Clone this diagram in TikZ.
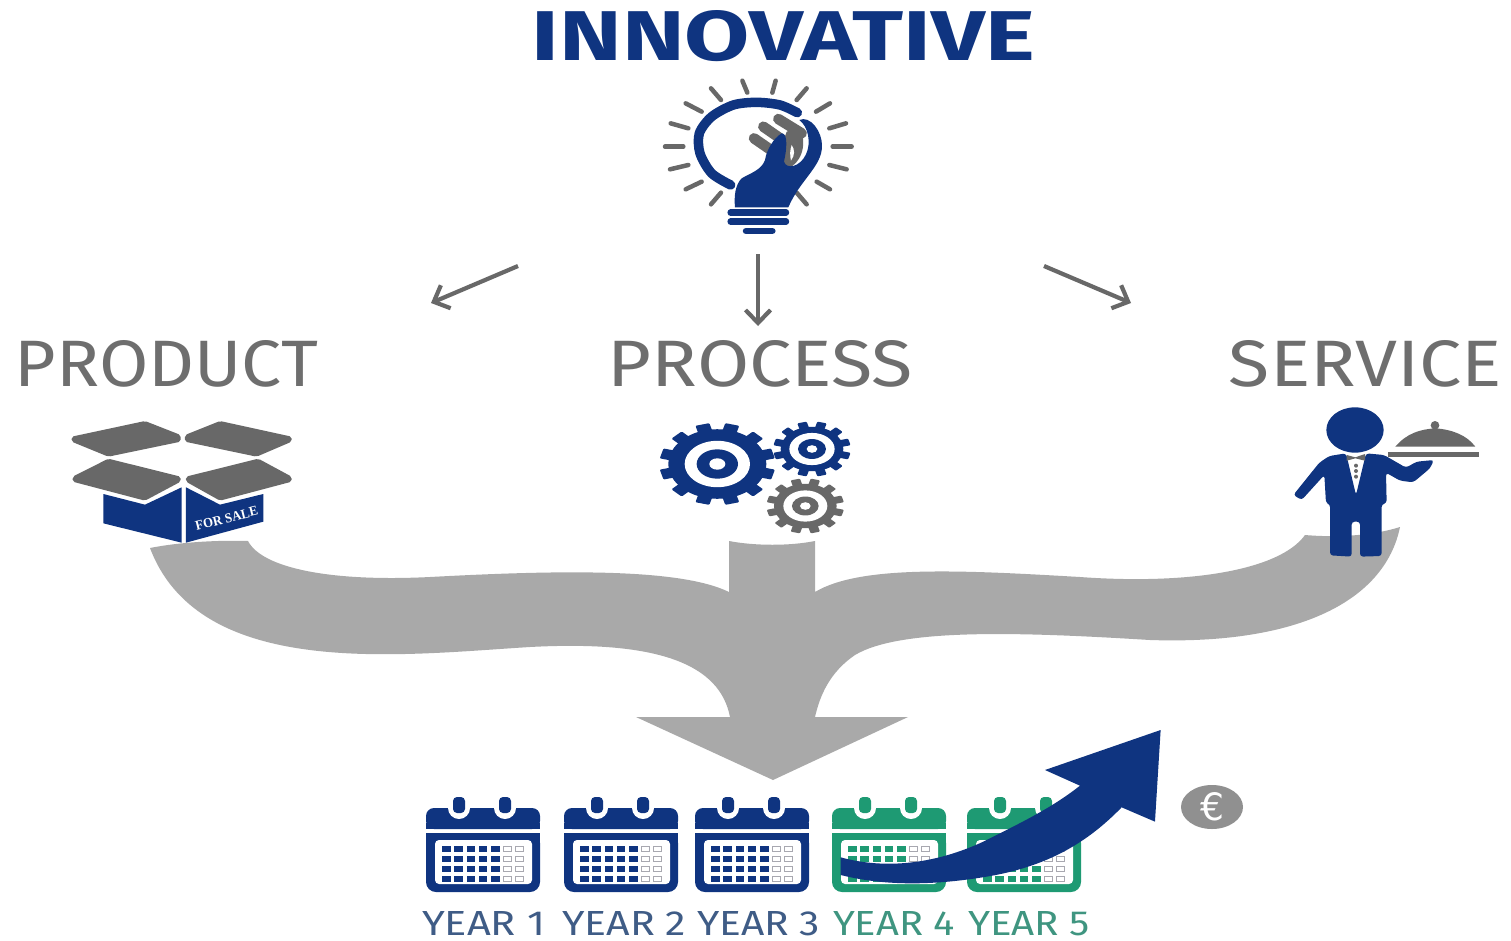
\documentclass[tikz,border=0pt]{standalone}
\usepackage{graphicx}
\usepackage{fontspec}
\setmainfont{Fira Sans}[Numbers=Lining]
\newfontfamily\eurofont{DejaVu Sans}
\newfontfamily\boxfont{Liberation Serif}
\usetikzlibrary{arrows.meta}
\definecolor{navy}{HTML}{0F3480}
\definecolor{band}{HTML}{A9A9A9}
\definecolor{flap}{HTML}{686868}
\definecolor{label}{HTML}{6E6E6E}
\definecolor{calgreen}{HTML}{1E9A73}
\definecolor{yrblue}{HTML}{3F5C86}
\definecolor{yrgreen}{HTML}{3F9580}
\definecolor{cellgray}{HTML}{A8A8B0}
\tikzset{
  thinarrow/.style={draw=flap,line width=4.2pt,-{Straight Barb[length=13pt,width=25pt,line width=4.2pt]}},
  ray/.style={draw=flap,line width=4.5pt,line cap=round},
  fit label/.style={inner sep=0pt,outer sep=0pt},
}
\newcommand{\fitlabel}[7]{\node[fit label,anchor=base,text=#6] (#1) at (#2,#3) {\resizebox{#4pt}{#5pt}{#7}};}
\newcommand{\gearicon}[8]{%
  \begin{scope}[shift={(#1,#2)},yscale=0.71]
    \foreach \a in {15,45,...,345} {
      \fill[#8,rotate=\a,rounded corners=1pt] (-0.125*#3,0) rectangle (0.125*#3,#3);
    }
    \fill[#8] (0,0) circle[radius=#4];
    \fill[white] (0,0) circle[radius=#5];
    \fill[#8] (0,0) circle[radius=#6];
    \fill[white] (0,0) circle[radius=#7];
  \end{scope}}
\newcommand{\calendaricon}[2]{%
  \begin{scope}[shift={(#1,797)}]
    \fill[#2,rounded corners=8pt] (0,32) -- (0,11) -- (114,11) -- (114,32) -- cycle;
    \fill[#2] (0,26) rectangle (114,32);
    \fill[white] (33,11) circle[radius=11];
    \fill[white] (79,11) circle[radius=11];
    \fill[#2,rounded corners=4pt] (27,0) rectangle (39,16);
    \fill[#2,rounded corners=4pt] (73,0) rectangle (85,16);
    \fill[#2,rounded corners=10pt] (0,36) -- (0,95) -- (114,95) -- (114,36) -- cycle;
    \fill[#2] (0,36) rectangle (114,50);
    \fill[white,rounded corners=4pt] (9,43) rectangle (106,87);
    \foreach \r in {0,1,2,3} {
      \foreach \c in {0,1,2,3,4} {
        \fill[#2] ({16+12.3*\c},{49+10*\r}) rectangle ++(8.5,5.5);
      }
      \foreach \c in {5,6} {
        \draw[cellgray,line width=0.9pt] ({16+12.3*\c},{49+10*\r}) rectangle ++(8,5.5);
      }
    }
  \end{scope}}
\begin{document}
\begin{tikzpicture}[x=1pt,y=-1pt]
\useasboundingbox (0,0) rectangle (1511,940);
\fill[white] (0,0) rectangle (1511,940);

% grey merging band
\fill[band] (150,548) .. controls (180,542) and (220,540) .. (248,541)
  .. controls (262,568) and (330,582) .. (430,577)
  .. controls (560,570) and (680,568) .. (729,592) -- (729,541)
  .. controls (755,546) and (790,546) .. (815,541) -- (815,592)
  .. controls (860,565) and (960,570) .. (1080,577)
  .. controls (1190,585) and (1280,570) .. (1305,535)
  .. controls (1340,538) and (1375,535) .. (1400,527)
  .. controls (1385,600) and (1300,645) .. (1150,640)
  .. controls (1020,632) and (900,628) .. (855,655)
  .. controls (830,672) and (820,695) .. (815,717)
  -- (908,717) -- (773,780) -- (636,717) -- (730,717)
  .. controls (720,665) and (660,640) .. (530,647)
  .. controls (400,655) and (200,680) .. (150,548) -- cycle;

% titles
\fitlabel{innovative}{783.5}{60}{503}{50}{navy}{\bfseries INNOVATIVE}
\fitlabel{product}{166.5}{386}{303}{46}{label}{PRODUCT}
\fitlabel{process}{760.5}{386}{305}{46}{label}{PROCESS}
\fitlabel{service}{1365.5}{386}{273}{46}{label}{SERVICE}

% thin arrows
\coordinate (a1s) at (518,266); \coordinate (a1e) at (431,303);
\coordinate (a2s) at (758,254); \coordinate (a2e) at (758,326);
\coordinate (a3s) at (1044,266); \coordinate (a3e) at (1131,303);
\draw[thinarrow] (a1s) -- (a1e);
\draw[thinarrow] (a2s) -- (a2e);
\draw[thinarrow] (a3s) -- (a3e);

% light bulb
\begin{scope}[shift={(640,70)},scale=0.3333]
  \foreach \xa/\ya/\xb/\yb in {75/230/130/230,90/298/145/285,137/358/185/335,213/403/243/368,
    470/368/500/403,530/335/570/358,568/285/620/298,578/230/635/230,568/175/618/160,528/125/570/100,
    470/90/500/55,397/68/407/32,322/68/307/32,243/90/213/55,185/125/137/100,145/175/92/160}
    {\draw[ray] (\xa,\ya) -- (\xb,\yb);}
  \draw[navy,line width=9.5pt,line cap=round] plot[smooth] coordinates
    {(272,345) (215,310) (180,250) (178,190) (215,140) (280,105) (350,97) (420,105) (472,128)};
  \foreach \xa/\ya/\xb/\yb in {342/205/400/245,370/170/445/222,415/147/485/190}
    {\draw[flap,line width=10.5pt,line cap=round] (\xa,\ya) -- (\xb,\yb);}
  \fill[flap] (480,170) .. controls (500,220) and (490,275) .. (440,298)
     .. controls (420,260) and (430,210) .. (440,185) -- cycle;
  \fill[white] (455,225) .. controls (465,240) and (465,255) .. (453,272) .. controls (449,255) and (450,240) .. (455,225) -- cycle;
  \fill[navy] (478,150) .. controls (510,135) and (548,185) .. (546,230)
     .. controls (545,290) and (480,330) .. (445,412) -- (285,412)
     .. controls (282,380) and (285,345) .. (305,325)
     .. controls (330,310) and (365,300) .. (375,270)
     .. controls (380,240) and (400,205) .. (425,190)
     .. controls (445,190) and (440,240) .. (432,275)
     .. controls (440,300) and (480,290) .. (497,255)
     .. controls (515,220) and (505,170) .. (478,150) -- cycle;
  \foreach \xa/\xb/\yy in {272/438/428,272/438/455,318/397/483}
    {\draw[navy,line width=6.5pt,line cap=round] (\xa,\yy) -- (\xb,\yy);}
\end{scope}

% box
\begin{scope}[shift={(50,410)},scale=0.3333]
  \fill[flap,rounded corners=2pt] (65,80) -- (285,33) -- (392,75) -- (392,95) -- (175,140) -- (65,95) -- cycle;
  \fill[flap,rounded corners=2pt] (405,75) -- (510,33) -- (725,80) -- (725,95) -- (620,140) -- (405,95) -- cycle;
  \fill[flap,rounded corners=2pt] (68,200) -- (175,146) -- (392,200) -- (392,215) -- (285,272) -- (68,215) -- cycle;
  \fill[flap,rounded corners=2pt] (408,200) -- (625,146) -- (725,200) -- (725,215) -- (510,272) -- (408,215) -- cycle;
  \fill[navy] (160,252) -- (285,284) -- (395,232) -- (395,398) -- (160,340) -- cycle;
  \fill[navy] (408,232) -- (510,284) -- (640,252) -- (640,335) -- (408,398) -- cycle;
  \node[fit label,text=white,rotate=14] (forsale) at (530,325) {\resizebox{64pt}{9pt}{\boxfont\bfseries FOR SALE}};
\end{scope}

% gears
\begin{scope}[shift={(640,410)},scale=0.3333]
  \gearicon{232}{162}{173}{147}{98}{62}{24}{navy}
  \gearicon{516}{117}{116}{94}{68}{42}{16}{navy}
  \gearicon{496}{288}{116}{94}{66}{40}{16}{flap}
\end{scope}

% waiter
\begin{scope}[shift={(1270,400)},scale=0.3333]
  \fill[navy] (255,90) ellipse[x radius=86,y radius=68];
  \fill[navy,rounded corners=3pt] (178,168) -- (228,160) -- (258,285) -- (288,160) -- (342,165)
    -- (408,203) -- (440,185) -- (492,180) -- (480,205) -- (430,247) -- (390,242) -- (348,218)
    -- (350,310) -- (335,312) -- (335,468) -- (270,470) -- (270,365) -- (245,365) -- (245,470)
    -- (180,466) -- (180,312) -- (168,310) -- (163,225) -- (95,300) -- (70,285) -- (148,188) -- cycle;
  \fill[flap] (230,165) -- (256,172) -- (285,162) -- (285,182) -- (256,175) -- (230,182) -- cycle;
  \foreach \yy in {197,213,230} {\fill[flap] (258,\yy) circle[radius=6];}
  \fill[flap] (376,140) .. controls (410,100) and (450,88) .. (495,85) .. controls (545,88) and (590,105) .. (616,140) -- cycle;
  \fill[flap] (495,76) circle[radius=13];
  \fill[flap] (355,155) rectangle (628,171);
\end{scope}

% calendars
\calendaricon{426}{navy}
\calendaricon{564}{navy}
\calendaricon{695}{navy}
\calendaricon{832}{calgreen}
\calendaricon{967}{calgreen}

% rising arrow
\begin{scope}[shift={(820,720)},scale=0.3333]
  \fill[navy] (62,412) .. controls (200,450) and (350,430) .. (490,365)
    .. controls (620,300) and (700,260) .. (780,197) -- (675,150) -- (1022,30) -- (1005,305) -- (905,262)
    .. controls (800,370) and (680,440) .. (500,470)
    .. controls (350,495) and (200,500) .. (62,465) -- cycle;
\end{scope}

% euro coin
\fill[band!85!black] (1212,807) ellipse[x radius=31,y radius=22];
\node[fit label,text=white] (euro) at (1212,807) {\resizebox{24pt}{28pt}{\eurofont €}};

% year labels
\fitlabel{y1}{483.5}{935}{123}{24}{yrblue}{YEAR 1}
\fitlabel{y2}{624}{935}{124}{24}{yrblue}{YEAR 2}
\fitlabel{y3}{758.5}{935}{123}{24}{yrblue}{YEAR 3}
\fitlabel{y4}{894}{935}{122}{24}{yrgreen}{YEAR 4}
\fitlabel{y5}{1029}{935}{122}{24}{yrgreen}{YEAR 5}
\end{tikzpicture}
\end{document}
